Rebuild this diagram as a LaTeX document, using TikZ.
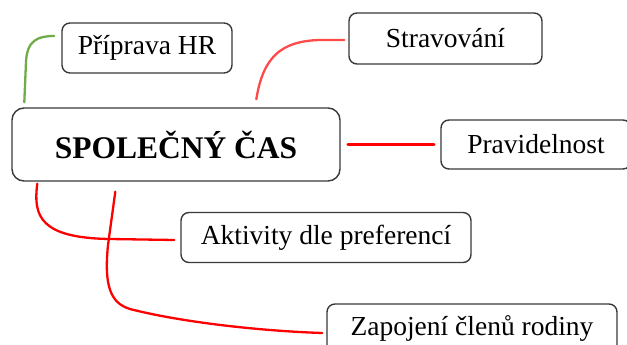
\documentclass[tikz,border=0pt]{standalone}
\usepackage{fontspec}
\setmainfont{Liberation Serif}
\usetikzlibrary{calc}

\definecolor{boxline}{HTML}{3A3A3A}
\definecolor{linkred}{HTML}{FF0000}
\definecolor{linkpink}{HTML}{FF4A4A}
\definecolor{linkgreen}{HTML}{70AD47}

\tikzset{
  topic/.style={draw=boxline, line width=1.4pt, rounded corners=8pt, fill=white,
    inner sep=0pt, font=\fontsize{27.5}{32}\selectfont},
  maintopic/.style={topic, rounded corners=12pt,
    font=\fontsize{31.5}{36}\selectfont\bfseries},
  link/.style={line width=2.3pt, linkred, line cap=round},
}

\begin{document}
\begin{tikzpicture}[x=1pt, y=-1pt]
  \useasboundingbox (0,0) rectangle (627,345);
  \clip (0,0) rectangle (627,345);
  \fill[white] (0,0) rectangle (627,345);

  % topics
  \node[maintopic, minimum width=328pt, minimum height=73pt] (main) at (176,144.5) {SPOLEČNÝ ČAS};
  \node[topic, minimum width=170pt, minimum height=50pt] (hr)    at (147,48)    {Příprava HR};
  \node[topic, minimum width=193pt, minimum height=51pt] (strav) at (445.5,38.5) {Stravování};
  \node[topic, minimum width=190pt, minimum height=49pt] (prav)  at (536,144.5) {Pravidelnost};
  \node[topic, minimum width=290pt, minimum height=50pt] (akt)   at (326,237.5) {Aktivity dle preferencí};
  \node[topic, minimum width=290pt, minimum height=50pt] (zap)   at (472,329)   {Zapojení členů rodiny};

  % connector ends
  \coordinate (hrA)    at ([xshift=13pt,yshift=5pt]main.north west);
  \coordinate (hrB)    at ([xshift=-7pt,yshift=12pt]hr.west);
  \coordinate (stravA) at ([xshift=245pt,yshift=8pt]main.north west);
  \coordinate (stravB) at ([xshift=-4pt,yshift=-1.5pt]strav.west);
  \coordinate (pravA)  at ([xshift=7pt]main.east);
  \coordinate (pravB)  at ([xshift=-6pt]prav.west);
  \coordinate (aktA)   at ([xshift=26pt,yshift=-2pt]main.south west);
  \coordinate (aktB)   at ([xshift=-6pt,yshift=-2.5pt]akt.west);
  \coordinate (zapA)   at ([xshift=104pt,yshift=-10pt]main.south west);
  \coordinate (zapB)   at ([xshift=-4pt,yshift=-4pt]zap.west);

  % connectors
  \draw[link, linkgreen] (hrA) -- (26,62) .. controls (27,40) and (38,36) .. (hrB);
  \draw[link, linkpink] (stravA) .. controls (263,58) and (280,41) .. (320,40) -- (stravB);
  \draw[link] (pravA) -- (pravB);
  \draw[link] (aktA) .. controls (33,216) and (40,238) .. (110,239) -- (aktB);
  \draw[link] (zapA) -- (108,245) .. controls (104,285) and (110,303) .. (130,309)
              .. controls (180,322) and (260,331) .. (zapB);
\end{tikzpicture}
\end{document}
